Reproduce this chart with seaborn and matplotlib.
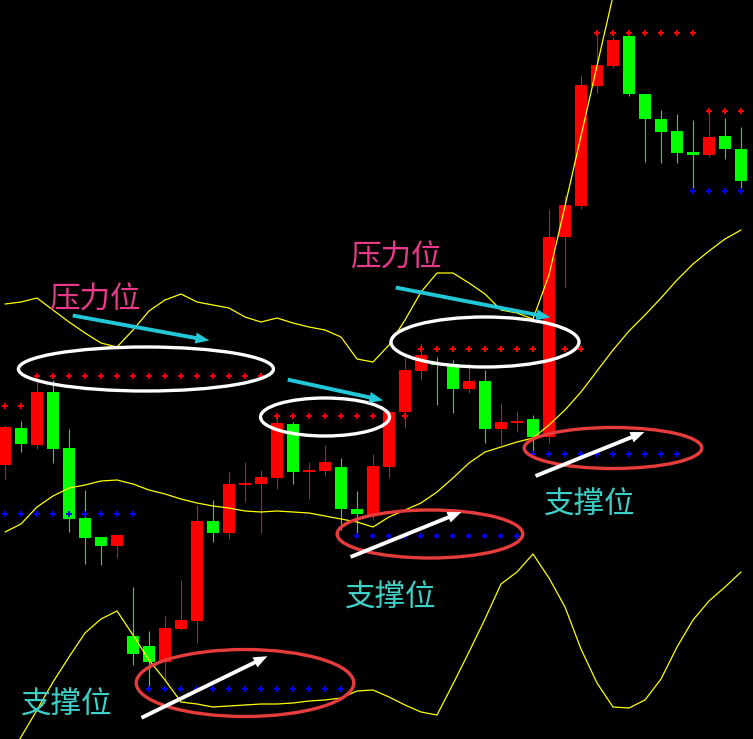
import numpy as np
import pandas as pd
import matplotlib.pyplot as plt
import seaborn as sns
from matplotlib.patches import Ellipse, FancyArrowPatch

# price values are read as screen rows off the picture (smaller = higher), axis is inverted
opens = [465, 428, 445, 392, 448, 518, 537, 546, 636, 646, 662, 629, 621, 521, 533, 485,
         484, 478, 424, 472, 471, 467, 509, 515, 467, 412, 371, 363, 364, 389, 381, 429,
         423, 419, 437, 237, 206, 86, 66, 36, 94, 119, 131, 152, 155, 136, 149]
closes = [427, 444, 392, 449, 519, 538, 546, 535, 654, 662, 628, 620, 521, 533, 484, 483,
          477, 423, 472, 470, 462, 509, 514, 466, 412, 370, 355, 365, 389, 381, 429, 422,
          421, 437, 237, 205, 85, 65, 40, 94, 119, 132, 153, 155, 137, 149, 181]
highs = [425, 421, 378, 380, 429, 490, 537, 534, 587, 631, 616, 580, 505, 500, 472, 462,
         470, 415, 422, 462, 445, 458, 491, 454, 410, 357, 343, 357, 360, 363, 370, 403,
         411, 415, 209, 195, 75, 33, 37, 36, 94, 110, 114, 120, 111, 118, 127]
lows = [479, 452, 449, 463, 532, 564, 565, 558, 665, 688, 680, 630, 643, 542, 539, 502,
        533, 489, 484, 499, 476, 530, 535, 520, 478, 428, 380, 405, 413, 393, 443, 445,
        432, 453, 443, 287, 209, 93, 68, 96, 162, 163, 163, 191, 157, 159, 190]

upper = [304, 302, 298, 310, 322, 333, 343, 347, 330, 311, 300, 294, 302, 305, 308, 317,
         322, 318, 323, 327, 330, 337, 359, 362, 345, 320, 292, 273, 273, 283, 294, 310,
         313, 319, 275, 206, 136, 66, -4, -74]
middle = [532, 524, 507, 496, 488, 485, 481, 480, 484, 490, 494, 499, 503, 506, 508, 511,
          512, 511, 512, 513, 516, 519, 522, 527, 517, 510, 503, 492, 478, 463, 452, 447,
          442, 438, 425, 410, 392, 371, 350, 331, 315, 298, 280, 264, 251, 239, 230]
lower = [765, 737, 710, 682, 657, 633, 619, 611, 635, 660, 680, 702, 704, 707, 706, 705,
         704, 704, 703, 701, 700, 698, 691, 690, 697, 705, 712, 715, 684, 652, 619, 584,
         572, 554, 578, 607, 649, 683, 707, 708, 700, 679, 647, 620, 601, 587, 572]

resistance = [406, 406, 376, 376, 376, 376, 376, 376, 376, 376, 376, 376, 376, 376, 376, 376,
              376, 416, 416, 416, 416, 416, 416, 416, 416, 416, 349, 349, 349, 349, 349, 349,
              349, 349, 349, 349, 349, 33, 33, 33, 33, 33, 33, 33, 111, 111, 111]
support = [514, 514, 514, 514, 514, 514, 514, 514, 514, 689, 689, 689, 689, 689, 689, 689,
           689, 689, 689, 689, 689, 689, 536, 536, 536, 536, 536, 536, 536, 536, 536, 536,
           536, 454, 454, 454, 454, 454, 454, 454, 454, 454, 454, 191, 191, 191, 191]

idx = np.arange(len(opens))
df = pd.DataFrame({"i": idx, "open": opens, "close": closes, "high": highs, "low": lows,
                   "res": resistance, "sup": support, "mid": middle, "low_band": lower})
df["up"] = df.close < df.open
df["color"] = np.where(df.up, "#ff0000", "#00ff00")

sns.set_style("dark")
plt.rcParams["font.family"] = ["Noto Sans CJK SC", "DejaVu Sans"]

fig = plt.figure(figsize=(7.53, 7.39), dpi=100, facecolor="black")
ax = fig.add_axes([0, 0, 1, 1])
ax.set_facecolor("black")

# candles
ax.vlines(df.i, df.high, df.low, colors=df.color, lw=0.8, zorder=2)
body = (df.close - df.open).where((df.close - df.open).abs() >= 2, -2)
ax.bar(df.i, body, bottom=df.open, width=0.69, color=df.color, lw=0, zorder=3)

# bands
ub = pd.DataFrame({"i": idx[:len(upper)], "v": upper})
sns.lineplot(data=ub, x="i", y="v", color="#ffff00", lw=0.9, estimator=None, ax=ax, zorder=4)
sns.lineplot(data=df, x="i", y="mid", color="#ffff00", lw=0.9, estimator=None, ax=ax, zorder=4)
sns.lineplot(data=df, x="i", y="low_band", color="#ffff00", lw=0.9, estimator=None, ax=ax, zorder=4)

# pressure / support dots
sns.scatterplot(data=df, x="i", y="res", marker="P", color="#ff0000", s=20, lw=0, ax=ax, zorder=5)
sns.scatterplot(data=df, x="i", y="sup", marker="P", color="#0000ff", s=20, lw=0, ax=ax, zorder=5)

# ellipses
for (cx, cy, w, h) in [(8.81, 369, 15.94, 44), (20.0, 417, 8.06, 38), (30.0, 342, 11.75, 50)]:
    ax.add_patch(Ellipse((cx, cy), w, h, fill=False, ec="white", lw=2.4, zorder=6))
for (cx, cy, w, h) in [(15.0, 683, 13.6, 67), (26.56, 534, 11.6, 48), (38.0, 448, 11.1, 41)]:
    ax.add_patch(Ellipse((cx, cy), w, h, fill=False, ec="#e83c3c", lw=2.4, zorder=6))

# arrows
cyan_arrows = [((4.06, 315), (12.94, 341)), ((17.5, 379), (23.81, 401)), ((24.25, 287), (34.25, 318))]
white_arrows = [((8.375, 719), (16.56, 655)), ((21.44, 558), (28.69, 511)), ((33.0, 477), (40.125, 431))]
for arrows, c in [(cyan_arrows, "#22c8d8"), (white_arrows, "white")]:
    for a, b in arrows:
        ax.add_patch(FancyArrowPatch(a, b, arrowstyle="simple,head_length=1.0,head_width=0.8,tail_width=0.28",
                                     mutation_scale=10, color=c, lw=0, zorder=7))

# labels
for x, y in [(5.625, 300), (24.44, 258)]:
    ax.text(x, y, "压力位", color="#e8398b", fontsize=22, ha="center", va="center", zorder=8)
for x, y in [(3.875, 705), (24.125, 598), (36.56, 505)]:
    ax.text(x, y, "支撑位", color="#3ecfc6", fontsize=22, ha="center", va="center", zorder=8)

ax.set_xlim(-0.3125, 46.75)
ax.set_ylim(739, 0)
ax.axis("off")

fig.savefig("out.png", dpi=100, facecolor="black")
